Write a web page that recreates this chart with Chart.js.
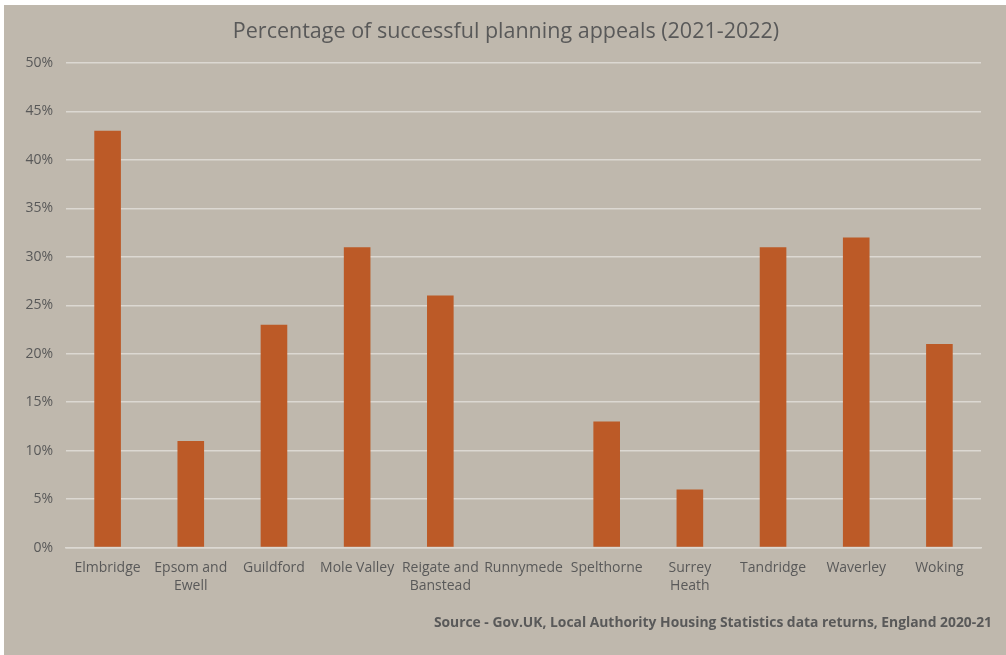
<!DOCTYPE html>
<html>
<head>
<meta charset="utf-8">
<script src="https://cdn.jsdelivr.net/npm/chart.js@4"></script>
<style>
  html, body { margin: 0; padding: 0; background: #ffffff; }
  #wrap { position: absolute; left: 4px; top: 5px; width: 1002px; height: 650px; background: #bfb8ad; }
</style>
</head>
<body>
<div id="wrap"><canvas id="appealsChart"></canvas></div>
<script>
var councils = ["Elmbridge", ["Epsom and", "Ewell"], "Guildford", "Mole Valley", ["Reigate and", "Banstead"],
  "Runnymede", "Spelthorne", ["Surrey", "Heath"], "Tandridge", "Waverley", "Woking"];
var successRate = [43, 11, 23, 31, 26, 0, 13, 6, 31, 32, 21];
var chartTitle = "Percentage of successful planning appeals (2021-2022)";
var sourceNote = "Source - Gov.UK, Local Authority Housing Statistics data returns, England 2020-21";

var grey = '#595959';
Chart.defaults.font.family = "'Open Sans', sans-serif";

// title centred on the whole panel, source line bottom-right
var panelText = {
  id: 'panelText',
  afterDraw: function (chart) {
    var c = chart.ctx;
    c.save();
    c.fillStyle = grey;
    c.textBaseline = 'middle';
    c.textAlign = 'center';
    c.font = "21.5px 'Open Sans', sans-serif";
    c.fillText(chartTitle, chart.width / 2 + 1, 27);
    c.textAlign = 'right';
    c.font = "bold 13.85px 'Open Sans', sans-serif";
    c.fillText(sourceNote, chart.width - 14, chart.height - 32);
    c.restore();
  }
};

var ctx = document.getElementById('appealsChart').getContext('2d');
var chart = new Chart(ctx, {
  type: 'bar',
  data: {
    labels: councils,
    datasets: [{
      data: successRate,
      backgroundColor: '#bc5a27',
      barPercentage: 0.32,
      categoryPercentage: 1
    }]
  },
  plugins: [panelText],
  options: {
    responsive: true,
    maintainAspectRatio: false,
    animation: false,
    layout: { padding: { left: 0, right: 25, top: 58, bottom: 57 } },
    plugins: {
      legend: { display: false },
      tooltip: { enabled: false }
    },
    scales: {
      x: {
        grid: { display: false },
        border: { color: '#dcd8d2', width: 1.5 },
        ticks: { color: grey, font: { size: 14, lineHeight: 1.3 }, maxRotation: 0, autoSkip: false, padding: 3 }
      },
      y: {
        min: 0,
        max: 50,
        afterFit: function (scale) { scale.width = 62; },
        border: { display: false },
        grid: { color: '#dcd8d2', lineWidth: 1.5, drawTicks: false },
        ticks: {
          stepSize: 5,
          color: grey,
          font: { size: 14 },
          padding: 13,
          callback: function (v) { return v + '%'; }
        }
      }
    }
  }
});
</script>
</body>
</html>
